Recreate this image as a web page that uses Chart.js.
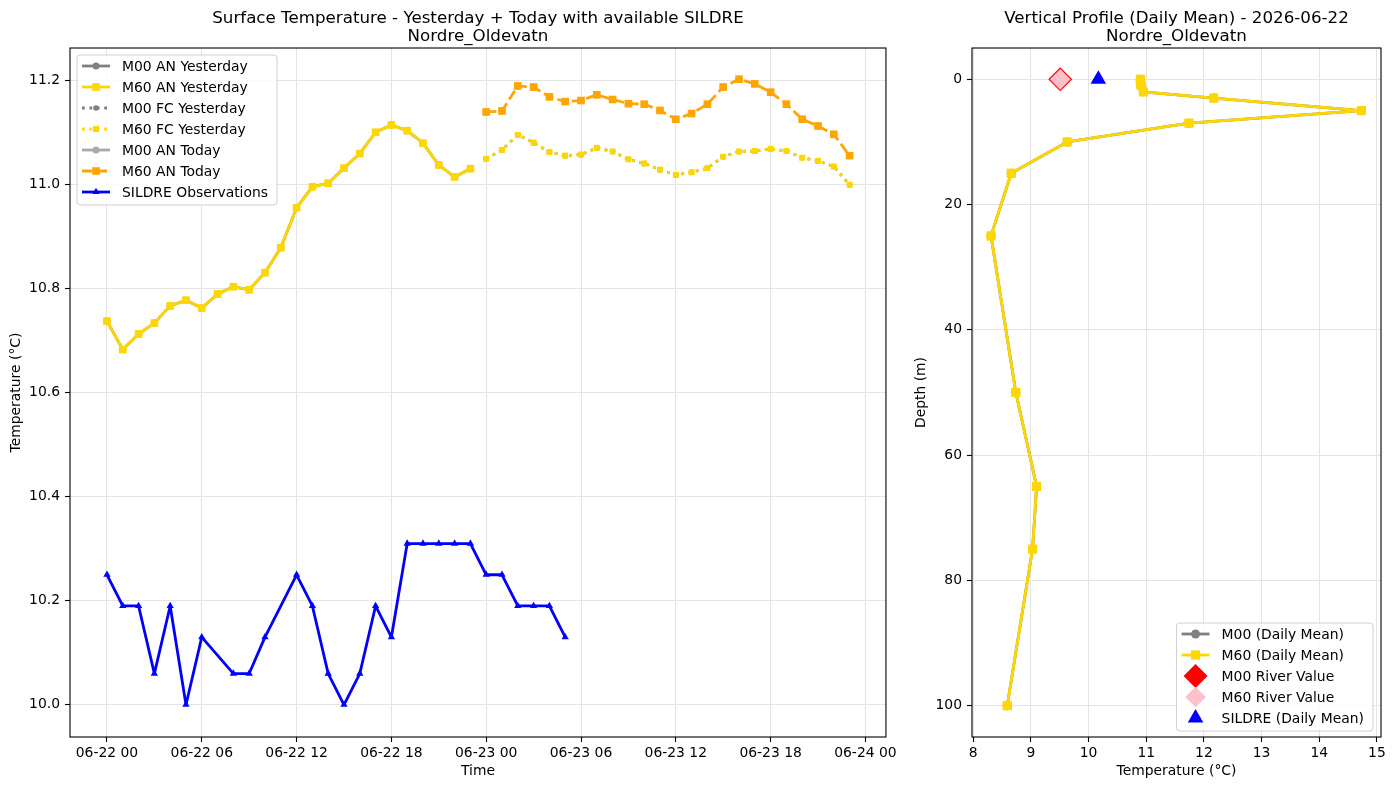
<!DOCTYPE html>
<html>
<head>
<meta charset="utf-8">
<title>Nordre_Oldevatn</title>
<script src="https://cdn.jsdelivr.net/npm/chart.js@4.4.1/dist/chart.umd.min.js"></script>
<style>
  html, body { margin: 0; padding: 0; background: #fff; }
  #wrap { position: relative; width: 1394px; height: 790px; }
  canvas { position: absolute; top: 0; }
  #surfChart { left: 0; }
  #profChart { left: 900px; }
</style>
</head>
<body>
<div id="wrap">
  <canvas id="surfChart" width="900" height="790"></canvas>
  <canvas id="profChart" width="494" height="790"></canvas>
</div>
<script>
// ---- DATA: surface temperature, x = hours since 06-22 00 ----
const hoursYesterday = [0,1,2,3,4,5,6,7,8,9,10,11,12,13,14,15,16,17,18,19,20,21,22,23];
const hoursToday = [24,25,26,27,28,29,30,31,32,33,34,35,36,37,38,39,40,41,42,43,44,45,46,47];

const m00AnYesterday = [10.738,10.683,10.713,10.734,10.767,10.778,10.763,10.790,10.804,10.798,10.831,10.879,
                        10.956,10.996,11.003,11.032,11.060,11.101,11.115,11.104,11.080,11.038,11.015,11.031];
const m60AnYesterday = [10.738,10.683,10.713,10.734,10.767,10.778,10.763,10.790,10.804,10.798,10.831,10.879,
                        10.956,10.996,11.003,11.032,11.060,11.101,11.115,11.104,11.080,11.038,11.015,11.031];
const m00FcYesterday = [11.050,11.067,11.096,11.081,11.063,11.056,11.058,11.071,11.064,11.049,11.041,11.029,
                        11.019,11.024,11.032,11.054,11.064,11.065,11.069,11.065,11.052,11.046,11.035,11.000];
const m60FcYesterday = [11.050,11.067,11.096,11.081,11.063,11.056,11.058,11.071,11.064,11.049,11.041,11.029,
                        11.019,11.024,11.032,11.054,11.064,11.065,11.069,11.065,11.052,11.046,11.035,11.000];
const m00AnToday = [11.140,11.142,11.190,11.188,11.169,11.160,11.162,11.173,11.164,11.156,11.155,11.143,
                    11.126,11.137,11.155,11.188,11.203,11.194,11.178,11.155,11.126,11.113,11.097,11.056];
const m60AnToday = [11.140,11.142,11.190,11.188,11.169,11.160,11.162,11.173,11.164,11.156,11.155,11.143,
                    11.126,11.137,11.155,11.188,11.203,11.194,11.178,11.155,11.126,11.113,11.097,11.056];

const sildreHours = [0,1,2,3,4,5,6,8,9,10,12,13,14,15,16,17,18,19,20,21,22,23,24,25,26,27,28,29];
const sildreTemp = [10.25,10.19,10.19,10.06,10.19,10.00,10.13,10.06,10.06,10.13,10.25,10.19,10.06,10.00,
                    10.06,10.19,10.13,10.31,10.31,10.31,10.31,10.31,10.25,10.25,10.19,10.19,10.19,10.13];

const timeTicks = [0, 6, 12, 18, 24, 30, 36, 42, 48];
const timeTickLabels = ['06-22 00','06-22 06','06-22 12','06-22 18','06-23 00','06-23 06','06-23 12','06-23 18','06-24 00'];
const surfTempTicks = [10.0, 10.2, 10.4, 10.6, 10.8, 11.0, 11.2];

// ---- DATA: vertical profile (daily mean) ----
const depths = [0, 0.5, 1, 2, 3, 5, 7, 10, 15, 25, 50, 65, 75, 100];
const m00Profile = [10.90,10.90,10.91,10.95,12.17,14.73,11.74,9.63,8.66,8.31,8.74,9.10,9.03,8.59];
const m60Profile = [10.90,10.90,10.91,10.95,12.17,14.73,11.74,9.63,8.66,8.31,8.74,9.10,9.03,8.59];
const m00River = 9.51;
const m60River = 9.51;
const sildreMean = 10.17;

const profTempTicks = [8, 9, 10, 11, 12, 13, 14, 15];
const depthTicks = [0, 20, 40, 60, 80, 100];

// ---- DEFAULTS ----
Chart.defaults.font.family = '"DejaVu Sans", sans-serif';
Chart.defaults.font.size = 13.9;
Chart.defaults.color = '#000';
Chart.defaults.animation = false;

const GRID = '#e4e4e4';
const toPts = (xs, ys) => xs.map((x, i) => ({ x, y: ys[i] }));

// ---- PLUGINS ----
const frame = {
  id: 'frame',
  afterDatasetsDraw(chart) {
    const { ctx, chartArea: a } = chart;
    ctx.save();
    ctx.strokeStyle = '#000';
    ctx.lineWidth = 1.1;
    ctx.strokeRect(a.left, a.top, a.right - a.left, a.bottom - a.top);
    ctx.restore();
  }
};

function mark(ctx, style, x, y, r, fill) {
  ctx.beginPath();
  if (style === 'rect') {
    const s = r * Math.SQRT1_2;
    ctx.rect(x - s, y - s, 2 * s, 2 * s);
  } else if (style === 'rectRot') {
    ctx.moveTo(x - r, y); ctx.lineTo(x, y - r); ctx.lineTo(x + r, y); ctx.lineTo(x, y + r);
    ctx.closePath();
  } else if (style === 'triangle') {
    ctx.moveTo(x, y - r); ctx.lineTo(x + 0.866 * r, y + 0.5 * r); ctx.lineTo(x - 0.866 * r, y + 0.5 * r);
    ctx.closePath();
  } else {
    ctx.arc(x, y, r, 0, Math.PI * 2);
  }
  ctx.fillStyle = fill;
  ctx.fill();
}

// matplotlib style legend box inside the plot
const boxLegend = {
  id: 'boxLegend',
  afterDraw(chart, args, opts) {
    const { ctx, chartArea: a } = chart;
    const items = chart.data.datasets.map(d => ({
      label: d.label,
      color: d.borderColor,
      dash: d.borderDash || [],
      line: d.legendLine !== false,
      style: d.pointStyle,
      r: d.legendRadius || d.pointRadius,
      fill: d.pointBackgroundColor
    }));
    ctx.save();
    ctx.font = '13.9px "DejaVu Sans"';
    const rowH = 21;
    const textW = Math.max(...items.map(i => ctx.measureText(i.label).width));
    const w = 45 + textW + 9;
    const h = items.length * rowH + 3;
    const x0 = opts.corner === 'br' ? a.right - 8 - w : a.left + 7;
    const y0 = opts.corner === 'br' ? a.bottom - 6 - h : a.top + 7;

    ctx.beginPath();
    ctx.roundRect(x0, y0, w, h, 3);
    ctx.fillStyle = 'rgba(255,255,255,0.8)';
    ctx.fill();
    ctx.strokeStyle = '#d0d0d0';
    ctx.lineWidth = 1;
    ctx.stroke();

    items.forEach((it, i) => {
      const cy = y0 + 11 + i * rowH;
      if (it.line) {
        ctx.beginPath();
        ctx.setLineDash(it.dash);
        ctx.strokeStyle = it.color;
        ctx.lineWidth = 2.8;
        ctx.moveTo(x0 + 5, cy);
        ctx.lineTo(x0 + 33, cy);
        ctx.stroke();
        ctx.setLineDash([]);
      }
      mark(ctx, it.style, x0 + 19, cy, it.r, it.fill);
      ctx.fillStyle = '#000';
      ctx.textBaseline = 'middle';
      ctx.textAlign = 'left';
      ctx.fillText(it.label, x0 + 45, cy + 1);
    });
    ctx.restore();
  }
};

// put series in matplotlib stacking order (later series on top)
const stack = ds => ds.map((d, i) => Object.assign(d, { order: ds.length - i }));

const fixedTicks = values => scale => { scale.ticks = values.map(v => ({ value: v })); };

// ---- SURFACE TEMPERATURE CHART ----
const line = (label, color, xs, ys, extra) => Object.assign({
  label,
  data: toPts(xs, ys),
  borderColor: color,
  backgroundColor: color,
  pointBackgroundColor: color,
  pointBorderWidth: 0,
  borderWidth: 2.8,
  borderJoinStyle: 'round',
  showLine: true,
  pointStyle: 'circle',
  pointRadius: 3.5,
  pointHoverRadius: 3.5
}, extra);

new Chart(document.getElementById('surfChart'), {
  type: 'scatter',
  data: {
    datasets: stack([
      line('M00 AN Yesterday', '#808080', hoursYesterday, m00AnYesterday),
      line('M60 AN Yesterday', '#FFD700', hoursYesterday, m60AnYesterday, { pointStyle: 'rect', pointRadius: 5.4 }),
      line('M00 FC Yesterday', '#808080', hoursToday, m00FcYesterday, { borderDash: [2.8, 4.6], pointRadius: 2.8 }),
      line('M60 FC Yesterday', '#FFD700', hoursToday, m60FcYesterday, { borderDash: [2.8, 4.6], pointStyle: 'rect', pointRadius: 4.2 }),
      line('M00 AN Today', '#A9A9A9', hoursToday, m00AnToday, { showLine: false }),
      line('M60 AN Today', '#FFA500', hoursToday, m60AnToday, { borderDash: [10.3, 4.4], pointStyle: 'rect', pointRadius: 5.4 }),
      line('SILDRE Observations', '#0000FF', sildreHours, sildreTemp, { pointStyle: 'triangle', pointRadius: 4.2 })
    ])
  },
  options: {
    responsive: false,
    devicePixelRatio: 1,
    layout: { padding: { left: 0, right: 12, top: 0, bottom: 0 } },
    plugins: {
      legend: { display: false },
      tooltip: { enabled: false },
      title: {
        display: true,
        fullSize: false,
        text: ['Surface Temperature - Yesterday + Today with available SILDRE', 'Nordre_Oldevatn'],
        color: '#000',
        font: { size: 16.7, weight: 'normal', lineHeight: 1.12 },
        padding: { top: 9, bottom: 1.6 }
      },
      boxLegend: { corner: 'tl' }
    },
    scales: {
      x: {
        type: 'linear',
        min: -2.34,
        max: 49.3,
        afterBuildTicks: fixedTicks(timeTicks),
        afterFit: s => { s.height = 53; },
        border: { display: false },
        grid: { color: GRID, lineWidth: 1, tickColor: '#000', tickLength: 5, tickWidth: 1.1 },
        ticks: {
          autoSkip: false, maxRotation: 0, padding: 3,
          callback: v => timeTickLabels[timeTicks.indexOf(v)]
        },
        title: { display: true, text: 'Time', padding: { top: 0, bottom: 10 } }
      },
      y: {
        min: 9.938,
        max: 11.263,
        afterBuildTicks: fixedTicks(surfTempTicks),
        afterFit: s => { s.width = 70; },
        border: { display: false },
        grid: { color: GRID, lineWidth: 1, tickColor: '#000', tickLength: 5, tickWidth: 1.1 },
        ticks: { padding: 5, callback: v => v.toFixed(1) },
        title: { display: true, text: 'Temperature (°C)', padding: { top: 8, bottom: 0 } }
      }
    }
  },
  plugins: [frame, boxLegend]
});

// ---- VERTICAL PROFILE CHART ----
new Chart(document.getElementById('profChart'), {
  type: 'scatter',
  data: {
    datasets: stack([
      line('M00 (Daily Mean)', '#808080', m00Profile, depths, { pointRadius: 4.5, legendRadius: 4.5 }),
      line('M60 (Daily Mean)', '#FFD700', m60Profile, depths, { pointStyle: 'rect', pointRadius: 6.5, legendRadius: 6.5 }),
      line('M00 River Value', '#FF0000', [m00River], [0], { showLine: false, legendLine: false, pointStyle: 'rectRot', pointRadius: 12 }),
      line('M60 River Value', '#FFC0CB', [m60River], [0], { showLine: false, legendLine: false, pointStyle: 'rectRot', pointRadius: 10.3 }),
      line('SILDRE (Daily Mean)', '#0000FF', [sildreMean], [0], { showLine: false, legendLine: false, pointStyle: 'triangle', pointRadius: 9 })
    ])
  },
  options: {
    responsive: false,
    devicePixelRatio: 1,
    layout: { padding: { left: 0, right: 13, top: 0, bottom: 0 } },
    plugins: {
      legend: { display: false },
      tooltip: { enabled: false },
      title: {
        display: true,
        fullSize: false,
        text: ['Vertical Profile (Daily Mean) - 2026-06-22', 'Nordre_Oldevatn'],
        color: '#000',
        font: { size: 16.7, weight: 'normal', lineHeight: 1.12 },
        padding: { top: 9, bottom: 1.6 }
      },
      boxLegend: { corner: 'br' }
    },
    scales: {
      x: {
        type: 'linear',
        min: 7.98,
        max: 15.07,
        afterBuildTicks: fixedTicks(profTempTicks),
        afterFit: s => { s.height = 53; },
        border: { display: false },
        grid: { color: GRID, lineWidth: 1, tickColor: '#000', tickLength: 5, tickWidth: 1.1 },
        ticks: { autoSkip: false, maxRotation: 0, padding: 3, callback: v => String(v) },
        title: { display: true, text: 'Temperature (°C)', padding: { top: 0, bottom: 10 } }
      },
      y: {
        reverse: true,
        min: -5,
        max: 105,
        afterBuildTicks: fixedTicks(depthTicks),
        afterFit: s => { s.width = 72; },
        border: { display: false },
        grid: { color: GRID, lineWidth: 1, tickColor: '#000', tickLength: 5, tickWidth: 1.1 },
        ticks: { padding: 5, callback: v => String(v) },
        title: { display: true, text: 'Depth (m)', padding: { top: 13, bottom: 0 } }
      }
    }
  },
  plugins: [frame, boxLegend]
});
</script>
</body>
</html>
